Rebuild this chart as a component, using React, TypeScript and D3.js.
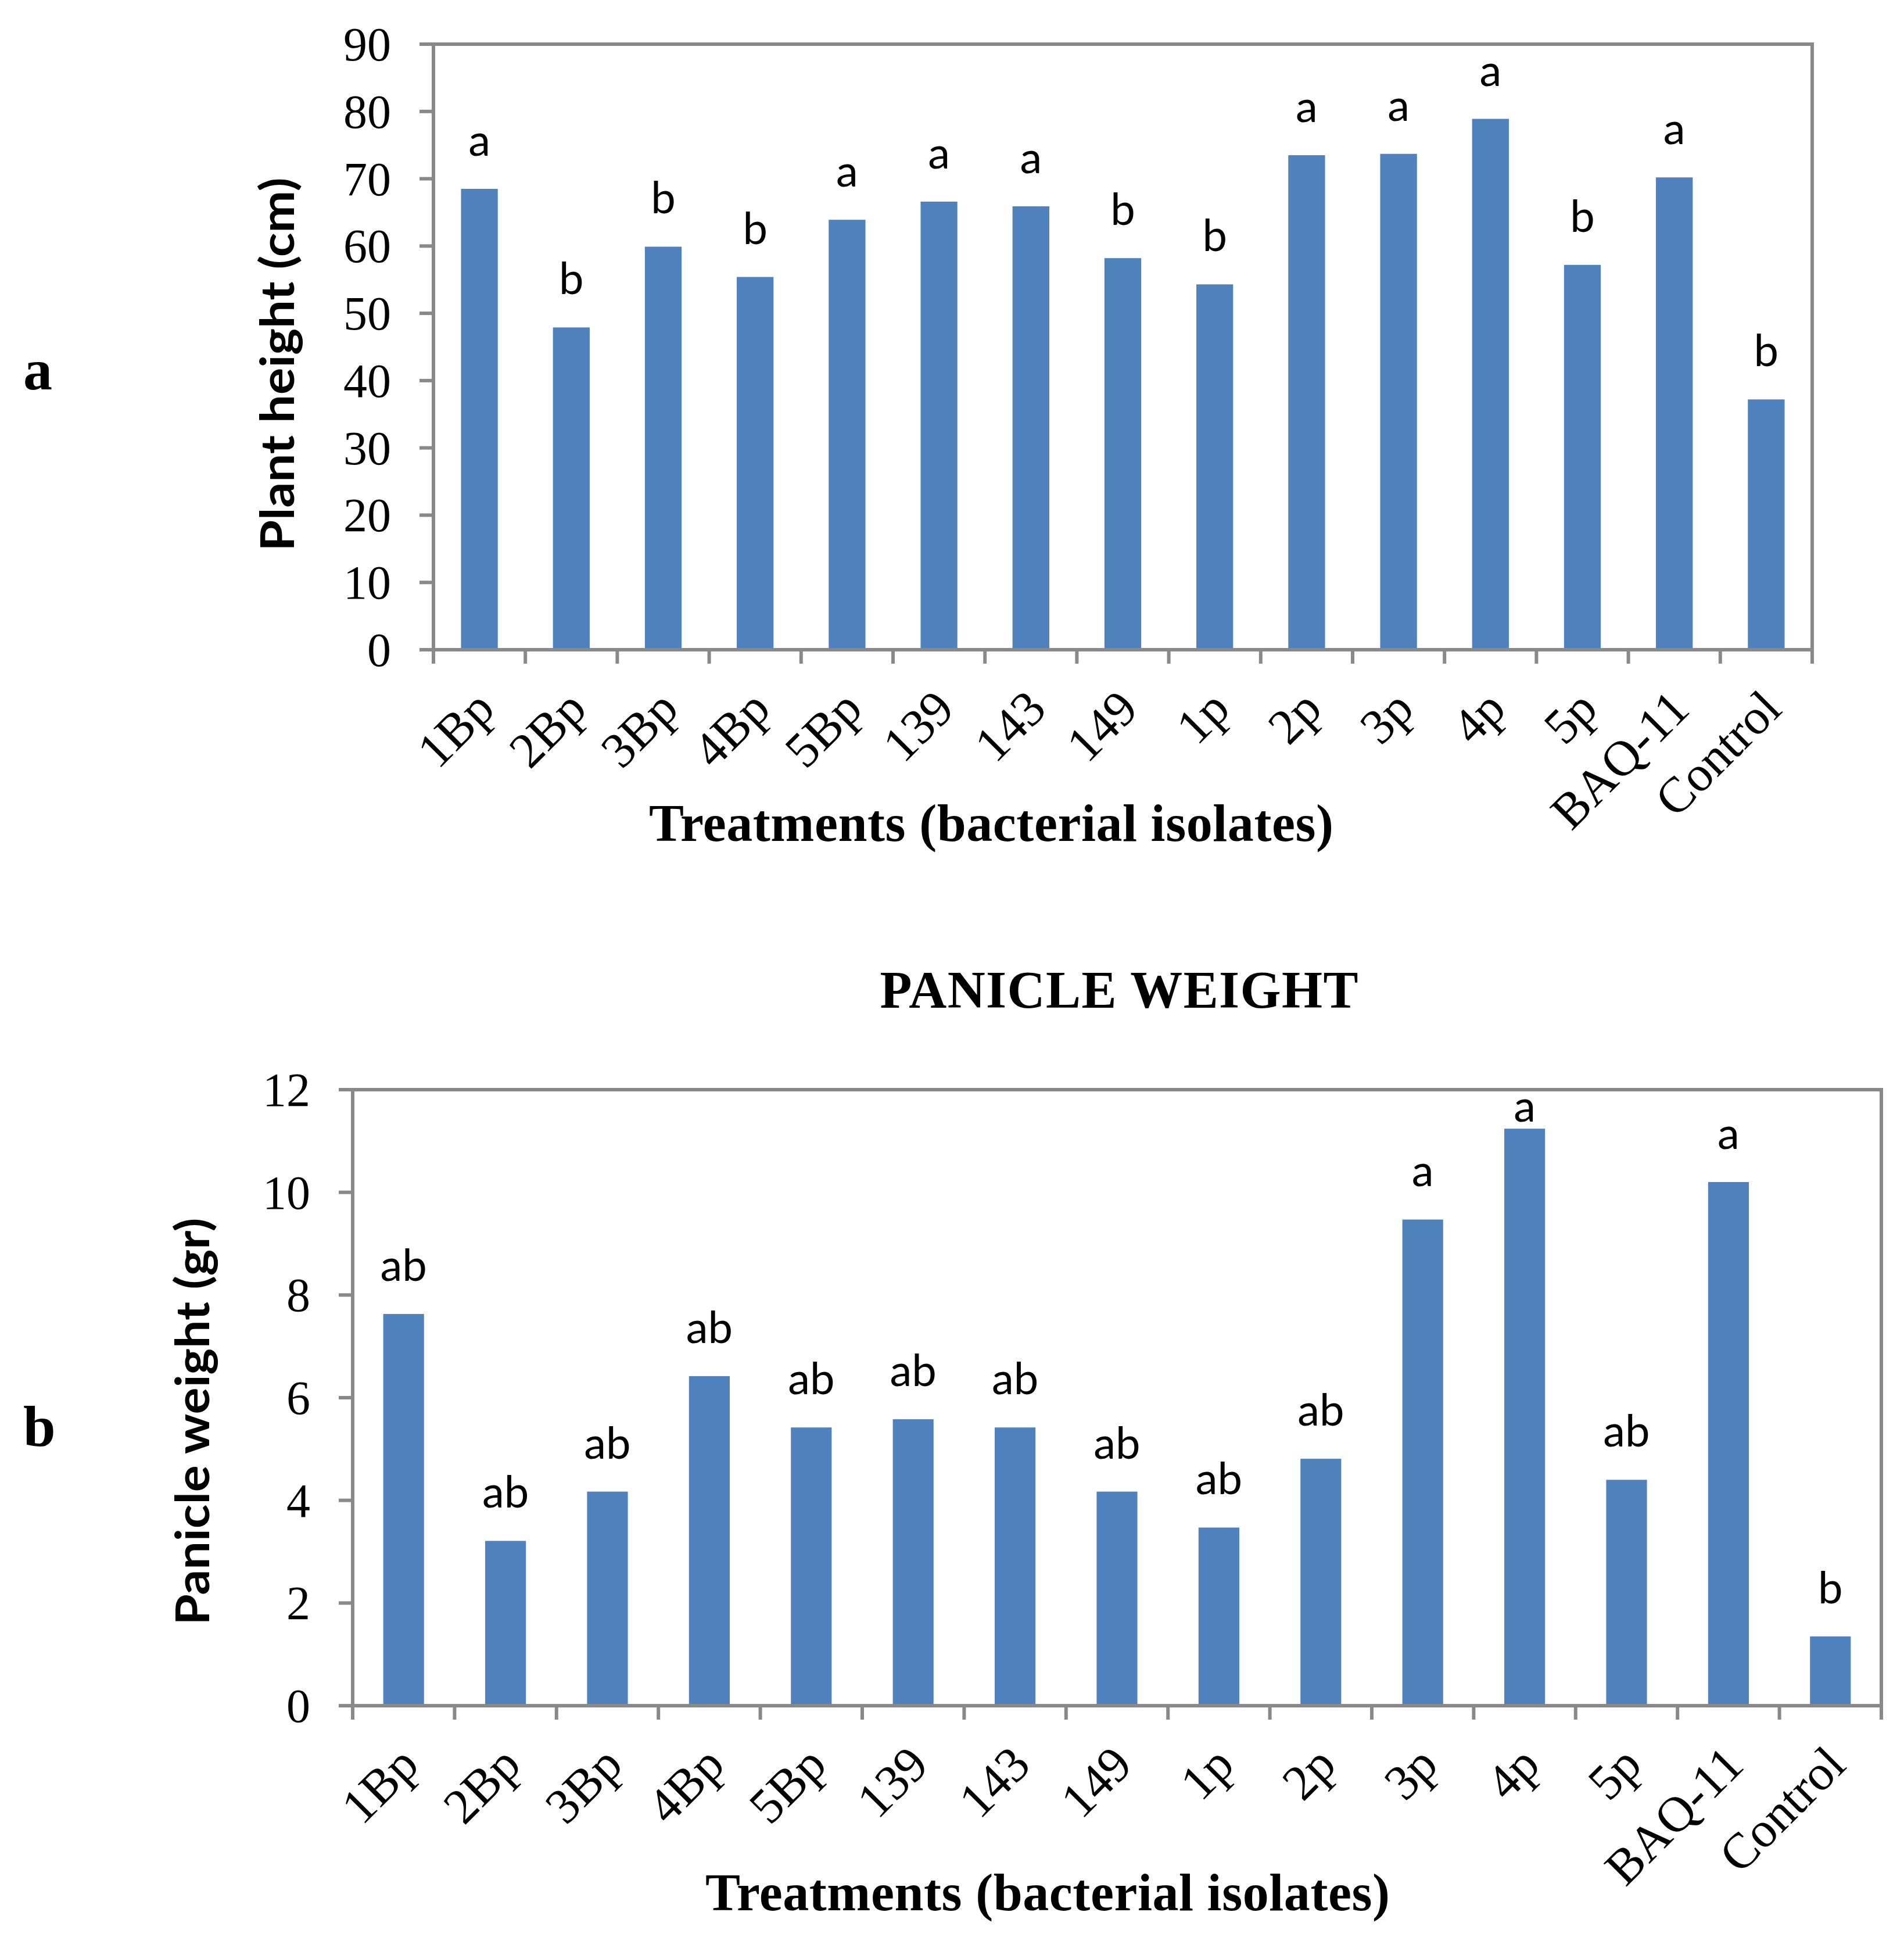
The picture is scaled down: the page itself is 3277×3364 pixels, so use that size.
import React from "react";
import * as d3 from "d3";

const categories = ["1Bp", "2Bp", "3Bp", "4Bp", "5Bp", "139", "143", "149", "1p", "2p", "3p", "4p", "5p", "BAQ-11", "Control"];

const heightValues = [68.5, 47.9, 59.9, 55.4, 63.9, 66.6, 65.9, 58.2, 54.3, 73.5, 73.7, 78.9, 57.2, 70.2, 37.2];
const heightLetters = ["a", "b", "b", "b", "a", "a", "a", "b", "b", "a", "a", "a", "b", "a", "b"];
const heightTicks = [0, 10, 20, 30, 40, 50, 60, 70, 80, 90];

const weightValues = [7.63, 3.21, 4.17, 6.42, 5.42, 5.58, 5.42, 4.17, 3.47, 4.81, 9.47, 11.24, 4.4, 10.2, 1.35];
const weightLetters = ["ab", "ab", "ab", "ab", "ab", "ab", "ab", "ab", "ab", "ab", "a", "a", "ab", "a", "b"];
const weightTicks = [0, 2, 4, 6, 8, 10, 12];

const BAR = "#4F81BD";
const AXIS = "#898989";
const SERIF = "'Liberation Serif', 'Times New Roman', serif";
const SANS = "Lato, 'Open Sans', sans-serif";

type PanelProps = {
  values: number[];
  letters: string[];
  ticks: number[];
  x0: number;
  x1: number;
  y0: number;
  y1: number;
  yTitle: string;
  yTitleX: number;
  yTitleY: number;
  yTitleLen: number;
  xTitleX: number;
  xTitleY: number;
};

function Panel(p: PanelProps) {
  const x = d3.scaleBand<string>().domain(categories).range([p.x0, p.x1]).paddingInner(0.6).paddingOuter(0.3);
  const yMax = p.ticks[p.ticks.length - 1];
  const y = d3.scaleLinear().domain([0, yMax]).range([p.y1, p.y0]);
  const step = x.step();
  const boundaries = d3.range(categories.length + 1).map((i) => p.x0 + i * step);
  const sw = 6;
  return (
    <g>
      {categories.map((c, i) => (
        <rect key={c} x={x(c)} y={y(p.values[i])} width={x.bandwidth()} height={y(0) - y(p.values[i])} fill={BAR} />
      ))}
      <rect x={p.x0} y={p.y0} width={p.x1 - p.x0} height={p.y1 - p.y0} fill="none" stroke={AXIS} strokeWidth={sw} />
      {p.ticks.map((t) => (
        <g key={t}>
          <line x1={p.x0 - 24} x2={p.x0} y1={y(t)} y2={y(t)} stroke={AXIS} strokeWidth={sw} />
          <text
            x={p.x0 - 73}
            y={y(t) + 28}
            textAnchor="end"
            fontFamily={SERIF}
            fontSize={82}
            fill="#000"
          >
            {t}
          </text>
        </g>
      ))}
      {boundaries.map((bx, i) => (
        <line key={i} x1={bx} x2={bx} y1={p.y1} y2={p.y1 + 24} stroke={AXIS} strokeWidth={sw} />
      ))}
      {categories.map((c, i) => {
        const cx = (x(c) as number) + x.bandwidth() / 2;
        const natural = y(p.values[i]) - 57;
        const by = Math.max(natural, p.y0 + 55);
        return (
          <text key={"l" + c} x={cx} y={by} textAnchor="middle" fontFamily={SANS} fontSize={76} fill="#000">
            {p.letters[i]}
          </text>
        );
      })}
      {categories.map((c) => {
        const cx = (x(c) as number) + x.bandwidth() / 2;
        const ax = cx + 30;
        const ay = p.y1 + 106;
        return (
          <text
            key={"x" + c}
            x={ax}
            y={ay}
            textAnchor="end"
            fontFamily={SERIF}
            fontSize={86}
            fill="#000"
            transform={`rotate(-45 ${ax} ${ay})`}
          >
            {c}
          </text>
        );
      })}
      <text
        x={p.yTitleX}
        y={p.yTitleY}
        textAnchor="middle"
        fontFamily={SANS}
        fontWeight="bold"
        fontSize={80}
        textLength={p.yTitleLen}
        lengthAdjust="spacingAndGlyphs"
        transform={`rotate(-90 ${p.yTitleX} ${p.yTitleY})`}
        fill="#000"
      >
        {p.yTitle}
      </text>
      <text
        x={p.xTitleX}
        y={p.xTitleY}
        textAnchor="middle"
        fontFamily={SERIF}
        fontWeight="bold"
        fontSize={90}
        textLength={1178}
        lengthAdjust="spacing"
        fill="#000"
      >
        Treatments (bacterial isolates)
      </text>
    </g>
  );
}

export default function App() {
  return (
    <svg
      width={3277}
      height={3364}
      viewBox="0 0 3277 3364"
      style={{ position: "absolute", left: 0, top: 0, background: "#fff" }}
    >
      <rect x={0} y={0} width={3277} height={3364} fill="#fff" />
      <text x={40} y={670} fontFamily={SERIF} fontWeight="bold" fontSize={100} fill="#000">
        a
      </text>
      <text x={40} y={2488} fontFamily={SERIF} fontWeight="bold" fontSize={100} fill="#000">
        b
      </text>
      <Panel
        values={heightValues}
        letters={heightLetters}
        ticks={heightTicks}
        x0={746}
        x1={3119}
        y0={76}
        y1={1118}
        yTitle="Plant height (cm)"
        yTitleX={506}
        yTitleY={627}
        yTitleLen={643}
        xTitleX={1706}
        xTitleY={1447}
      />
      <text
        x={1926}
        y={1734}
        textAnchor="middle"
        fontFamily={SERIF}
        fontWeight="bold"
        fontSize={90}
        textLength={823}
        lengthAdjust="spacing"
        fill="#000"
      >
        PANICLE WEIGHT
      </text>
      <Panel
        values={weightValues}
        letters={weightLetters}
        ticks={weightTicks}
        x0={607}
        x1={3238}
        y0={1875}
        y1={2935}
        yTitle="Panicle weight (gr)"
        yTitleX={360}
        yTitleY={2446}
        yTitleLen={701}
        xTitleX={1803}
        xTitleY={3287}
      />
    </svg>
  );
}
